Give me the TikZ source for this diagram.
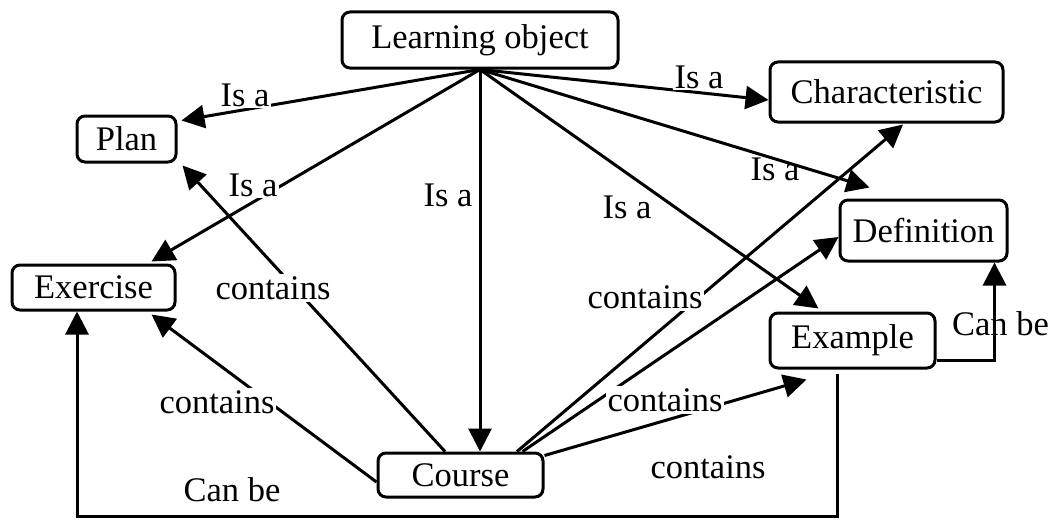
\documentclass[tikz,border=0pt]{standalone}
\usepackage{fontspec}
\setmainfont{Liberation Serif}
\usetikzlibrary{arrows.meta,calc}
\begin{document}
\begin{tikzpicture}[x=1pt,y=-1pt,
  every node/.style={font=\fontsize{34.5}{40}\selectfont},
  box/.style={draw,line width=3pt,rounded corners=8pt,inner sep=0pt},
  link/.style={line width=3pt},
  arr/.style={link,-{Triangle[length=23pt,width=23pt]}},
  lab/.style={fill=white,inner sep=2pt},
  plainlab/.style={inner sep=0pt}]
\useasboundingbox (0,0) rectangle (1054,519);
% concepts
\node[box,minimum width=276pt,minimum height=56pt] (lo) at (480,40) {Learning object};
\node[box,minimum width=99pt,minimum height=46pt] (plan) at (126.5,139) {Plan};
\node[box,minimum width=163pt,minimum height=45pt] (exer) at (93.5,287.5) {Exercise};
\node[box,minimum width=233pt,minimum height=60pt] (char) at (886.5,92) {Characteristic};
\node[box,minimum width=167pt,minimum height=61pt] (def) at (923.5,230.5) {Definition};
\node[box,minimum width=165pt,minimum height=55pt] (ex) at (852.5,340.5) {Example};
\node[box,minimum width=165pt,minimum height=44pt] (course) at (460.5,475) {Course};
% labels crossed by lines
\node[plainlab] (l5) at (775,169) {Is a};
\node[plainlab] (c12) at (1000.5,324) {Can be};
% Is a edges
\draw[arr] (lo.south) -- ([xshift=4pt,yshift=-6pt]plan.north east);
\draw[arr] (lo.south) -- ([xshift=-25pt,yshift=2pt]exer.north east);
\draw[arr] (lo.south) -- (lo.south |- course.north);
\draw[arr] (lo.south) -- ([yshift=-8pt]char.west);
\draw[arr] (lo.south) -- ([xshift=31pt,yshift=11pt]def.north west);
\draw[arr] (lo.south) -- ([xshift=50pt,yshift=3pt]ex.north west);
% contains edges
\draw[arr] ([xshift=-15.5pt]course.north) -- ([xshift=5pt,yshift=-2pt]plan.south east);
\draw[arr] ([yshift=-7pt]course.west) -- ([xshift=-25pt,yshift=-3pt]exer.south east);
\draw[arr] ([xshift=56.5pt]course.north) -- ([xshift=16.5pt,yshift=-1pt]char.south);
\draw[arr] ([xshift=62pt]course.north) -- ([yshift=-6.5pt]def.west);
\draw[arr] ([yshift=-4pt]course.north east) -- ([xshift=38pt,yshift=-10pt]ex.south west);
% can be edges
\draw[arr] ([yshift=-19.5pt]ex.east) -| ([xshift=-14pt]def.south east);
\coordinate (bot) at (0,516.5);
\coordinate (exd) at ([xshift=-15.5pt,yshift=-4pt]ex.south);
\coordinate (exu) at ([xshift=-16.5pt]exer.south);
\draw[arr] (exd) -- (exd |- bot) -| (exu);
% labels on white
\node[lab] (l1) at (245,95) {Is a};
\node[lab] (l2) at (253,185) {Is a};
\node[lab] (l3) at (448,195) {Is a};
\node[lab] (l4) at (699,77) {Is a};
\node[lab] (l6) at (627,207) {Is a};
\node[lab] (c7) at (273,288) {contains};
\node[lab] (c8) at (217,402) {contains};
\node[lab] (c9) at (645,297) {contains};
\node[lab] (c10) at (665,400) {contains};
\node[lab] (c11) at (708,467) {contains};
\node[lab] (c13) at (232,490) {Can be};
\end{tikzpicture}
\end{document}
